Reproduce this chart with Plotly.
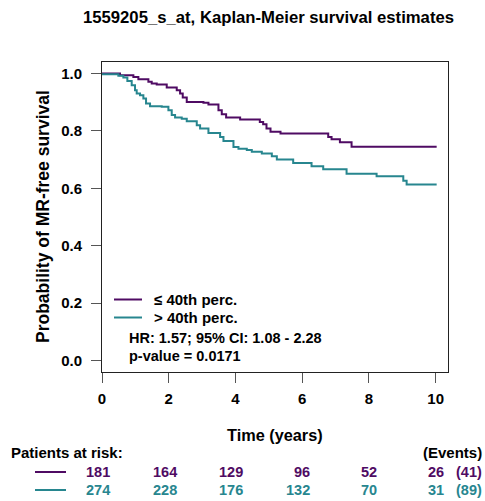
import plotly.graph_objects as go

# ---- data ----
low_t = [0, 0.54, 0.94, 1.09, 1.39, 1.49, 1.64, 1.94, 2.24, 2.34, 2.42, 2.54, 3.04, 3.19,
         3.49, 3.59, 3.72, 4.14, 4.73, 4.83, 4.93, 5.05, 5.35, 6.78, 6.88, 7.13, 7.48, 10.03]
low_s = [1.0, 0.994, 0.988, 0.980, 0.971, 0.965, 0.962, 0.951, 0.942, 0.930, 0.916, 0.901, 0.898, 0.892,
         0.872, 0.858, 0.847, 0.840, 0.831, 0.823, 0.808, 0.797, 0.791, 0.779, 0.771, 0.760, 0.745, 0.745]

high_t = [0, 0.49, 0.64, 0.76, 0.89, 0.99, 1.04, 1.14, 1.24, 1.32, 1.44, 1.79, 1.99, 2.09, 2.19,
          2.39, 2.54, 2.84, 2.94, 3.19, 3.54, 3.64, 3.94, 4.09, 4.34, 4.49, 4.79, 5.09, 5.24,
          5.73, 6.28, 6.63, 7.33, 8.23, 9.03, 9.13, 10.03]
high_s = [0.997, 0.992, 0.986, 0.974, 0.959, 0.942, 0.930, 0.924, 0.913, 0.895, 0.886, 0.884, 0.872, 0.855, 0.847,
          0.842, 0.834, 0.820, 0.808, 0.793, 0.779, 0.765, 0.744, 0.738, 0.733, 0.727, 0.721, 0.712, 0.700,
          0.688, 0.677, 0.666, 0.651, 0.642, 0.626, 0.613, 0.613]

group_names = ["≤ 40th perc.", "> 40th perc."]
risk_times = [0, 2, 4, 6, 8, 10]
risk_low = [181, 164, 129, 96, 52, 26]
risk_high = [274, 228, 176, 132, 70, 31]
events = [41, 89]
x_ticks = [0, 2, 4, 6, 8, 10]
y_ticks = [0.0, 0.2, 0.4, 0.6, 0.8, 1.0]
hr_text = "HR: 1.57; 95% CI: 1.08 - 2.28"
p_text = "p-value = 0.0171"

PURPLE = "#4F0B63"
TEAL = "#27868F"
FONT = "Liberation Sans"

W, H = 485, 501
ML, MR, MT, MB = 102, 37, 62, 129
PW = W - ML - MR
PH = H - MT - MB

def py(pix):
    return (H - MB - pix) / PH

def px(pix):
    return (pix - ML) / PW

fig = go.Figure()
fig.add_trace(go.Scatter(x=low_t, y=low_s, mode="lines", line=dict(color=PURPLE, width=2, shape="hv"),
                         name=group_names[0], showlegend=False))
fig.add_trace(go.Scatter(x=high_t, y=high_s, mode="lines", line=dict(color=TEAL, width=2, shape="hv"),
                         name=group_names[1], showlegend=False))

def txt(s, x, y, size=15, color="black", anchor="left", xref="paper", xshift=0, angle=0):
    return dict(text="<b>" + s + "</b>", x=x, y=y, xref=xref, yref="paper", xanchor=anchor, yanchor="middle",
                showarrow=False, xshift=xshift, textangle=angle, font=dict(size=size, color=color, family=FONT))

ann = []
shapes = []
# legend (drawn manually)
for name, col, pix in zip(group_names, [PURPLE, TEAL], [299.5, 317.5]):
    shapes.append(dict(type="line", xref="paper", yref="paper", x0=px(114), x1=px(142), y0=py(pix), y1=py(pix),
                       line=dict(color=col, width=2)))
    ann.append(txt(name, px(152), py(pix), size=15))
ann.append(txt(hr_text, px(127), py(337.5), size=14.5))
ann.append(txt(p_text, px(127), py(355.5), size=14.5))
ann.append(txt("Time (years)", px(275), py(435), size=16.3, anchor="center"))
ann.append(txt("Probability of MR-free survival", px(43), py(217), size=17.5, anchor="center", angle=-90))
ann.append(txt("Patients at risk:", px(9), py(452), size=15))
ann.append(txt("(Events)", px(484), py(452), size=15, anchor="right"))

rows = [(risk_low, PURPLE, 472), (risk_high, TEAL, 490)]
for (vals, col, pix), ev in zip(rows, events):
    for t, v in zip(risk_times, vals):
        ann.append(txt("%d" % v, t, py(pix), size=14.5, color=col, anchor="right", xref="x", xshift=10))
    ann.append(txt("(%d)" % ev, px(484), py(pix), size=14.5, color=col, anchor="right"))
    shapes.append(dict(type="line", xref="paper", yref="paper", x0=px(35), x1=px(66), y0=py(pix), y1=py(pix),
                       line=dict(color=col, width=2)))

fig.update_layout(
    width=W, height=H,
    margin=dict(l=ML, r=MR, t=MT, b=MB, autoexpand=False),
    paper_bgcolor="white", plot_bgcolor="white",
    title=dict(text="<b>1559205_s_at, Kaplan-Meier survival estimates</b>", x=268.5 / W, xref="container",
               xanchor="center", y=1 - 17.5 / H, yref="container", yanchor="middle",
               font=dict(size=16.7, color="black", family=FONT)),
    font=dict(family=FONT, color="black"),
    showlegend=False,
    annotations=ann,
    shapes=shapes,
)
fig.update_xaxes(range=[0, 10.37], tickvals=x_ticks, ticktext=["<b>%d</b>" % v for v in x_ticks],
                 ticks="outside", ticklen=10, tickcolor="#555", tickwidth=1, ticklabelstandoff=3,
                 showline=True, linecolor="#222", linewidth=1, mirror=True, showgrid=False, zeroline=False,
                 tickfont=dict(size=15, color="black", family=FONT))
fig.update_yaxes(range=[-0.04, 1.04], tickvals=y_ticks, ticktext=["<b>%.1f</b>" % v for v in y_ticks],
                 ticks="outside", ticklen=10, tickcolor="#555", tickwidth=1, ticklabelstandoff=6,
                 showline=True, linecolor="#222", linewidth=1, mirror=True, showgrid=False, zeroline=False,
                 tickfont=dict(size=15, color="black", family=FONT))

fig.write_html("out.html", config={"displayModeBar": False},
               post_script="document.body.style.margin='0';document.body.style.overflow='hidden';")
